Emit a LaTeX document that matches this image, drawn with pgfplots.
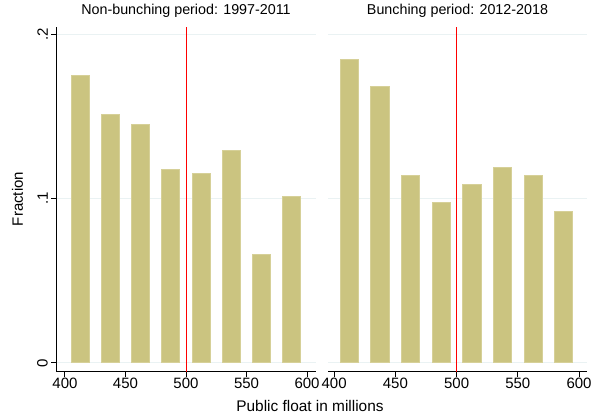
\documentclass[border=0pt]{standalone}
\usepackage{fontspec}
\setmainfont{Liberation Sans}
\usepackage{pgfplots}
\pgfplotsset{compat=1.18}

\definecolor{barfill}{RGB}{203,196,128}
\definecolor{barline}{RGB}{214,208,152}
\definecolor{gridc}{RGB}{234,242,243}

% Bin centres (25-wide bins) and fractions
\pgfplotstableread{
x      y
412.5  0.1749
437.5  0.1508
462.5  0.1453
487.5  0.1179
512.5  0.1151
537.5  0.1289
562.5  0.0657
587.5  0.1015
}\nonbunching
\pgfplotstableread{
x      y
412.5  0.1846
437.5  0.1684
462.5  0.1143
487.5  0.0977
512.5  0.1088
537.5  0.1191
562.5  0.1143
587.5  0.0922
}\bunching

\pgfplotsset{
  panel/.style={
    scale only axis,
    height=344.7pt,
    ymin=-0.0053, ymax=0.2043,
    ytick={0,0.1,0.2},
    xtick={400,450,500,550,600},
    xticklabels={400,450,500,550,600},
    axis x line*=bottom,
    axis line style={-, line width=1pt, black},
    tick align=outside,
    major tick length=5pt,
    tick style={black, line width=1pt},
    ymajorgrids,
    major grid style={draw=gridc, line width=1pt},
    clip=false,
    xticklabel style={inner sep=0pt, anchor=north, yshift=-1.3pt},
    title style={at={(0.5,1)}, anchor=base, yshift=6.3pt, inner sep=0pt,
                 font=\fontsize{14.3}{17}\selectfont},
  },
}

\begin{document}
\begin{tikzpicture}[font=\fontsize{15}{18}\selectfont]
\path[use as bounding box] (0,0) rectangle (597pt,415pt);

\begin{axis}[panel,
  at={(56pt,43.3pt)}, anchor=south west,
  width=260pt,
  xmin=392.6, xmax=607.4,
  axis y line*=left,
  yticklabels={0,.1,.2},
  yticklabel style={xshift=-3pt, rotate=90, anchor=south, inner sep=0pt},
  title={Non-bunching period: 1997-2011},
]
\addplot[ybar, bar width=14.9, fill=barfill, draw=barline, line width=1pt]
  table[x=x, y=y] {\nonbunching};
\addplot[red, line width=1pt] coordinates {(500,-0.0053) (500,0.2043)};
\end{axis}

\begin{axis}[panel,
  at={(328pt,43.3pt)}, anchor=south west,
  width=259pt,
  xmin=395, xmax=606.5,
  axis y line*=left,
  y axis line style={draw=none},
  ytick style={draw=none},
  yticklabels={},
  title={Bunching period: 2012-2018},
]
\addplot[ybar, bar width=14.9, fill=barfill, draw=barline, line width=1pt]
  table[x=x, y=y] {\bunching};
\addplot[red, line width=1pt] coordinates {(500,-0.0053) (500,0.2043)};
\end{axis}

\node[rotate=90, anchor=center] at (17.5pt,216pt) {Fraction};
\node[anchor=base, font=\fontsize{15.4}{18}\selectfont] at (310pt,3.3pt) {Public float in millions};
\end{tikzpicture}
\end{document}
